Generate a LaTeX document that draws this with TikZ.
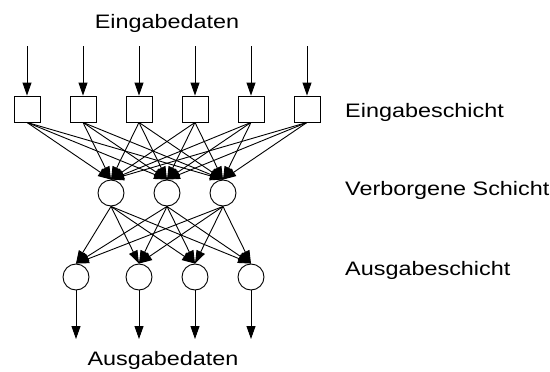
\documentclass[tikz,border=0pt]{standalone}
\usepackage{fontspec}
\setmainfont{Liberation Sans}[FakeStretch=1.2]
\usetikzlibrary{arrows.meta}
\begin{document}
\begin{tikzpicture}[x=1pt,y=-1pt,
  inbox/.style={draw,line width=0.9pt,minimum size=26pt,inner sep=0pt},
  neuron/.style={draw,circle,line width=0.9pt,minimum size=26pt,inner sep=0pt},
  conn/.style={line width=0.9pt,-{Triangle[length=13pt,width=9pt]}},
  lbl/.style={inner sep=0pt,font=\fontsize{19.5}{22}\selectfont}]
\useasboundingbox (0,0) rectangle (550,372);
% input squares
\foreach \i/\x in {1/27,2/83,3/139,4/195,5/251,6/307}{
  \node[inbox] (s\i) at (\x,109) {};
  \coordinate (t\i) at (\x,46);
  \draw[conn] (t\i) -- (s\i.north);
}
% hidden
\foreach \i/\x in {1/111,2/167,3/223}{
  \node[neuron] (h\i) at (\x,193) {};
}
% output
\foreach \i/\x in {1/76,2/139,3/195,4/251}{
  \node[neuron] (o\i) at (\x,277) {};
  \coordinate (b\i) at (\x,339);
  \draw[conn] (o\i.south) -- (b\i);
}
\foreach \i in {1,...,6}{
  \foreach \j in {1,2,3}{
    \draw[conn] (s\i.south) -- (h\j.north);
  }
}
\foreach \j in {1,2,3}{
  \foreach \k in {1,...,4}{
    \draw[conn] (h\j.south) -- (o\k.north);
  }
}
\node[lbl,anchor=base] (ein) at (167,28.5) {Eingabedaten};
\node[lbl,anchor=base] (aus) at (163,365) {Ausgabedaten};
\node[lbl,anchor=base west] (l1) at (345,117) {Eingabeschicht};
\node[lbl,anchor=base west] (l2) at (345,195) {Verborgene Schicht};
\node[lbl,anchor=base west] (l3) at (345,275) {Ausgabeschicht};
\end{tikzpicture}
\end{document}
